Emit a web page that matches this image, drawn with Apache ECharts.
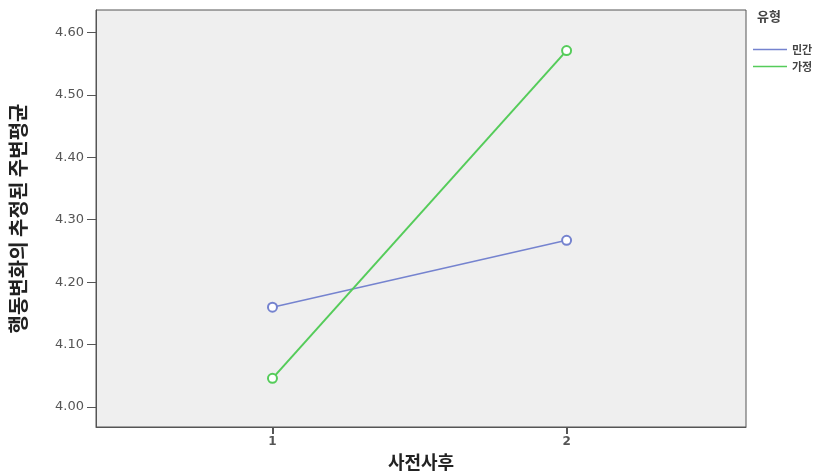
<!DOCTYPE html>
<html><head><meta charset="utf-8">
<script src="https://cdn.jsdelivr.net/npm/echarts@6/dist/echarts.min.js"></script>
<style>html,body{margin:0;padding:0;background:#fff}#c{width:821px;height:474px}</style>
</head><body><div id="c"></div>
<script>
const xValues = [1, 2];
const xTickLabels = [1, 2];
const yTickValues = [4.00, 4.10, 4.20, 4.30, 4.40, 4.50, 4.60];
const seriesNames = ['민간', '가정'];
const privateValues = [4.160, 4.267];
const homeValues = [4.046, 4.571];
const legendTitle = '유형';
const xAxisName = '사전사후';
const yAxisName = '행동변화의 추정된 주변평균';

const colors = ['#7583cf', '#55cc5a'];
const chart = echarts.init(document.getElementById('c'));
const font = '"Noto Sans CJK KR", "Noto Sans", sans-serif';
const numFont = '"DejaVu Sans", sans-serif';
chart.setOption({
  animation: false,
  textStyle: { fontFamily: font },
  grid: { left: 96, right: 75, top: 10, bottom: 47, outerBoundsMode: 'none', containLabel: false, show: true, backgroundColor: '#efefef', borderColor: '#555', borderWidth: 1 },
  graphic: [{ type: 'text', left: 757, top: 10, style: { text: legendTitle, fontSize: 13, fill: '#444', fontFamily: font, fontWeight: 'bold' } }],
  legend: {
    orient: 'vertical', left: 748, top: 39, itemWidth: 34, itemHeight: 8, itemGap: 6,
    icon: 'path://M0,4L34,4L34,5.5L0,5.5Z',
    textStyle: { fontSize: 11, color: '#444', fontFamily: font, fontWeight: 'bold' }, data: seriesNames
  },
  xAxis: {
    type: 'value', min: 0.4, max: 2.61,
    name: xAxisName, nameLocation: 'middle', nameGap: 25,
    nameTextStyle: { fontSize: 18, color: '#222', fontFamily: font, fontWeight: 'bold' },
    axisLine: { show: true, lineStyle: { color: '#555' } },
    axisTick: { show: true, length: 7, customValues: xTickLabels, lineStyle: { color: '#555', width: 2 } },
    axisLabel: { customValues: xTickLabels, fontSize: 12, color: '#555', margin: 9, fontFamily: numFont, fontWeight: 'bold' },
    splitLine: { show: false }
  },
  yAxis: {
    type: 'value', min: 3.968, max: 4.636,
    name: yAxisName, nameLocation: 'middle', nameGap: 68, nameRotate: 90,
    nameTextStyle: { fontSize: 20, color: '#222', fontFamily: font, fontWeight: 'bold' },
    axisLine: { show: true, lineStyle: { color: '#555' } },
    axisTick: { show: true, length: 9, customValues: yTickValues, lineStyle: { color: '#555' } },
    axisLabel: { customValues: yTickValues, fontSize: 13, color: '#555', margin: 12, fontFamily: numFont, formatter: v => v.toFixed(2) },
    splitLine: { show: false }
  },
  series: [
    { name: seriesNames[0], type: 'line', data: xValues.map((x, i) => [x, privateValues[i]]), symbol: 'emptyCircle', symbolSize: 9, lineStyle: { color: colors[0], width: 1.5 }, itemStyle: { color: colors[0], borderWidth: 1.5 } },
    { name: seriesNames[1], type: 'line', data: xValues.map((x, i) => [x, homeValues[i]]), symbol: 'emptyCircle', symbolSize: 9, lineStyle: { color: colors[1], width: 2 }, itemStyle: { color: colors[1], borderWidth: 1.5 } }
  ]
});
</script></body></html>
